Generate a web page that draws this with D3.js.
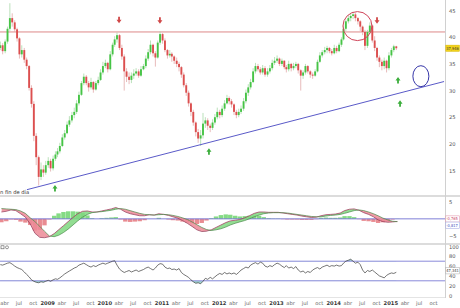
<!DOCTYPE html>
<html>
<head>
<meta charset="utf-8">
<script src="https://cdn.jsdelivr.net/npm/d3@7"></script>
<style>
  body { margin: 0; background: #fff; }
  svg { display: block; font-family: "DejaVu Sans", sans-serif; }
</style>
</head>
<body>
<div id="chart"></div>
<script>
const width = 460;
const height = 308;
const plotRight = 445;

// half-month candles, first one is early March 2008
const firstOpen = 38.0;
const closes = [
  38.5, 37.4, 39.2, 41.6, 43.6, 42.8, 41.5, 39.8, 36.8, 37.6, 35.8, 34.6, 30.5, 27.5, 21.5, 17.5, 13.8, 15.2, 14.6, 16.0,
  16.8, 15.4, 17.2, 18.0, 18.6, 19.6, 21.2, 22.0, 23.6, 24.4, 25.4, 26.0, 27.6, 29.2, 31.4, 32.6, 31.4, 30.6, 31.6, 30.2, 31.4, 32.0, 33.4, 34.6,
  35.2, 34.0, 36.8, 38.6, 39.6, 40.4, 38.0, 36.4, 33.6, 32.6, 32.0, 32.8, 33.2, 33.6, 32.8, 34.0, 34.6, 36.0, 37.2, 38.6, 37.0, 36.2, 39.0, 40.6,
  39.4, 37.6, 36.6, 36.9, 36.4, 35.6, 35.0, 34.4, 33.0, 31.0, 29.6, 27.6, 26.0, 24.0, 22.2, 21.0, 21.6, 23.8, 24.4, 23.4, 23.0, 24.0, 25.0, 26.0,
  25.4, 26.6, 27.6, 28.6, 28.0, 27.4, 26.0, 25.4, 26.0, 26.6, 28.0, 29.6, 30.6, 31.6, 33.6, 34.6, 34.0, 33.4, 34.2, 33.0, 33.6, 34.2, 35.2, 35.6,
  36.0, 35.0, 35.6, 34.4, 34.0, 35.0, 34.2, 34.6, 35.0, 33.8, 32.8, 33.4, 34.6, 33.6, 33.0, 32.8, 33.6, 35.4, 36.6, 37.2, 37.6, 38.0, 37.4, 37.0,
  38.0, 37.4, 38.6, 39.6, 41.6, 43.0, 43.6, 44.0, 44.3, 43.6, 43.0, 42.0, 41.0, 38.4, 41.0, 42.2, 39.4, 38.0, 36.2, 35.4, 34.6, 35.6, 34.2, 36.6,
  37.6, 38.3, 37.946
];
const highs = [
  39.2, 38.9, 39.6, 42.0, 46.4, 44.5, 43.2, 41.8, 40.0, 38.5, 38.0, 36.2, 34.8, 31.0, 28.0, 22.0, 17.8, 16.5, 16.0, 16.8,
  17.5, 17.2, 17.8, 18.6, 19.2, 20.2, 21.8, 22.6, 24.2, 25.2, 26.0, 26.8, 28.2, 29.8, 31.8, 33.2, 32.9, 31.8, 32.4, 31.8, 31.8, 32.6, 34.0, 35.4,
  35.8, 35.4, 37.4, 39.0, 40.2, 40.9, 40.6, 38.6, 36.8, 34.2, 33.4, 33.4, 34.0, 34.2, 34.0, 34.6, 35.0, 36.6, 37.8, 39.4, 38.8, 37.4, 39.4, 41.1,
  40.8, 39.8, 37.8, 37.6, 37.2, 36.6, 36.2, 35.4, 34.6, 33.4, 31.4, 30.0, 27.8, 26.4, 24.2, 22.8, 22.6, 25.8, 25.0, 24.8, 23.8, 24.6, 25.6, 26.8,
  26.4, 27.2, 28.2, 29.2, 28.9, 28.4, 27.6, 26.4, 26.6, 27.2, 28.6, 30.2, 31.2, 32.2, 34.2, 35.2, 35.0, 34.4, 34.8, 34.6, 34.2, 34.8, 35.8, 36.3,
  36.6, 36.2, 36.0, 35.7, 34.8, 35.6, 35.2, 35.2, 35.4, 35.2, 34.0, 33.8, 35.0, 34.8, 33.8, 33.4, 34.0, 35.8, 37.2, 37.6, 38.2, 38.4, 38.2, 37.8,
  38.6, 38.4, 39.0, 40.0, 42.2, 43.4, 44.2, 44.6, 44.8, 44.6, 43.8, 43.2, 42.2, 41.4, 41.4, 42.8, 42.4, 40.2, 38.2, 36.6, 35.8, 36.2, 35.8, 37.2,
  38.0, 38.6, 38.4
];
const lows = [
  37.6, 36.8, 37.0, 38.8, 41.2, 42.0, 41.0, 39.2, 36.0, 36.2, 35.2, 34.0, 30.0, 26.8, 20.5, 16.0, 12.2, 13.2, 13.8, 14.2,
  15.5, 14.8, 15.0, 16.8, 17.5, 18.2, 19.4, 20.8, 21.8, 23.2, 24.0, 24.8, 25.6, 27.2, 29.0, 31.0, 31.0, 29.8, 30.2, 29.6, 30.0, 31.0, 31.8, 33.0,
  34.2, 33.4, 33.8, 36.4, 38.2, 39.0, 37.6, 35.8, 30.0, 31.6, 31.2, 31.4, 32.2, 32.8, 32.4, 32.6, 33.8, 34.2, 35.6, 36.8, 36.4, 34.5, 36.0, 38.6,
  38.8, 37.2, 36.0, 36.2, 35.4, 35.0, 34.4, 33.6, 32.4, 30.6, 29.0, 27.0, 25.2, 23.4, 21.4, 20.2, 19.6, 21.0, 23.0, 22.6, 22.2, 22.6, 23.6, 24.6,
  24.8, 25.0, 26.2, 27.4, 27.4, 26.8, 25.4, 24.8, 25.0, 25.6, 26.2, 27.6, 29.0, 30.2, 31.4, 33.2, 33.6, 33.0, 33.0, 32.6, 32.6, 33.2, 33.8, 34.8,
  35.2, 34.6, 34.6, 34.0, 33.4, 33.6, 33.6, 33.8, 34.2, 33.2, 30.0, 32.2, 33.0, 33.2, 32.4, 32.2, 32.6, 33.4, 35.2, 36.2, 36.8, 37.0, 37.0, 36.6,
  36.8, 37.0, 37.2, 38.2, 39.4, 41.2, 42.6, 43.0, 43.4, 43.0, 42.4, 41.2, 40.4, 37.6, 38.0, 40.6, 39.0, 37.4, 35.6, 34.4, 33.8, 34.0, 33.4, 33.8,
  36.2, 37.2, 37.6
];

// RSI, same half-month dates
const rsiValues = [
  63, 62, 64, 66, 67, 64, 60, 57, 55, 53, 48, 43, 38, 32, 29, 27, 26, 28, 27, 29,
  31, 29, 32, 34, 33, 36, 40, 44, 47, 50, 53, 56, 58, 62, 64, 66, 63, 60, 58, 61, 59, 62, 64, 66,
  64, 66, 68, 70, 71, 62, 54, 50, 47, 49, 51, 48, 50, 52, 49, 51, 53, 56, 58, 55, 52, 56, 62, 65,
  64, 58, 55, 56, 53, 54, 52, 55, 47, 43, 40, 37, 32, 28, 25, 26, 24, 29, 35, 33, 37, 34, 38, 42,
  45, 43, 47, 44, 46, 44, 46, 43, 47, 52, 55, 58, 56, 62, 65, 67, 64, 68, 66, 60, 58, 61, 59, 63,
  66, 64, 60, 57, 61, 56, 58, 55, 59, 52, 48, 50, 46, 49, 47, 52, 55, 57, 54, 58, 60, 62, 59, 61,
  60, 62, 60, 61, 66, 70, 72, 74, 70, 66, 68, 63, 52, 46, 51, 49, 52, 48, 44, 40, 38, 36, 41, 44,
  46, 45, 47.341
];

// MACD lines, monthly from March 2008
const macdFast = [
  2.0, 2.2, 2.6, 2.4, 1.5, 0.5, -1.5, -4.2, -5.4, -5.5,
  -5.2, -4.3, -3.2, -2.0, -0.8, 0.4, 1.5, 2.2, 2.3, 2.0, 2.0, 2.3,
  2.6, 2.9, 3.3, 2.8, 2.0, 1.5, 1.2, 0.9, 0.9, 1.2, 1.1, 1.5,
  1.3, 1.0, 0.6, 0.2, -0.5, -1.3, -2.2, -3.2, -3.7, -3.6, -3.2, -2.5,
  -1.8, -1.1, -0.6, -0.4, -0.2, 0.3, 0.9, 1.6, 2.0, 2.0, 1.9, 1.9,
  1.9, 1.7, 1.5, 1.3, 1.1, 0.8, 0.6, 0.4, 0.5, 0.9, 1.2, 1.3,
  1.4, 1.7, 2.4, 2.8, 2.9, 2.5, 1.8, 1.3, 0.6, -0.3, -0.8, -1.0,
  -0.9, -0.765
];
const macdSignal = [
  3.0, 2.9, 2.8, 2.7, 2.3, 1.6, 0.3, -0.8, -2.2, -3.6,
  -5.0, -5.2, -4.8, -4.0, -3.0, -1.8, -0.6, 0.5, 1.3, 1.8, 2.0, 2.1,
  2.3, 2.5, 2.8, 3.0, 2.8, 2.4, 2.0, 1.6, 1.3, 1.2, 1.1, 1.2,
  1.3, 1.2, 1.0, 0.7, 0.3, -0.2, -0.9, -1.7, -2.5, -3.1, -3.4, -3.2,
  -2.9, -2.4, -1.8, -1.3, -0.9, -0.5, 0.0, 0.6, 1.1, 1.5, 1.7, 1.8,
  1.8, 1.8, 1.7, 1.5, 1.3, 1.1, 0.9, 0.7, 0.6, 0.6, 0.8, 1.0,
  1.1, 1.3, 1.6, 2.0, 2.4, 2.6, 2.4, 2.0, 1.5, 0.9, 0.2, -0.3,
  -0.7, -0.817
];

const priceTicks = [15, 20, 25, 30, 35, 40, 45];
const macdTicks = [5, -5];
const rsiTicks = [100, 80, 60, 40, 20, 0];
const rsiLevels = [70, 30];
const monthNames = ['ene', 'feb', 'mar', 'abr', 'may', 'jun', 'jul', 'ago', 'sep', 'oct', 'nov', 'dic'];

// drawings on the price panel
const resistance = 41.0;
const trendDates = [new Date(2008, 7, 25), new Date(2015, 11, 10)];
const trendPrices = [11.4, 31.7];
const downArrowDates = [new Date(2010, 3, 5), new Date(2010, 11, 22), new Date(2014, 9, 8)];
const downArrowPrices = [43.2, 43.1, 43.1];
const upArrowDates = [new Date(2009, 1, 20), new Date(2011, 9, 31), new Date(2015, 1, 19), new Date(2015, 2, 4)];
const upArrowPrices = [11.7, 18.6, 32.0, 27.6];
const redCircleDate = new Date(2014, 5, 5), redCirclePrice = 42.1;
const blueCircleDate = new Date(2015, 6, 15), blueCirclePrice = 32.7;

const halfDate = i => new Date(2008, 2 + Math.floor(i / 2), i % 2 ? 23 : 8);
const monthDate = i => new Date(2008, 2 + i, 15);
const comma = (v, n) => v.toFixed(n).replace('.', ',');

const candles = closes.map((c, i) => ({
  date: halfDate(i),
  open: i ? closes[i - 1] : firstOpen,
  close: c,
  high: highs[i],
  low: lows[i]
}));
const macd = macdFast.map((v, i) => ({date: monthDate(i), a: v, b: macdSignal[i]}));
const rsi = rsiValues.map((v, i) => ({date: halfDate(i), v: v}));

const svg = d3.select('#chart').append('svg')
  .attr('width', width)
  .attr('height', height);

const x = d3.scaleTime()
  .domain([new Date(2008, 2, 6), new Date(2015, 11, 16)])
  .range([0, plotRight]);
const yPrice = d3.scaleLinear().domain([10.4, 47]).range([195, 0]);
const yMacd = d3.scaleLinear().domain([-5, 5]).range([236, 201.7]);
const yRsi = d3.scaleLinear().domain([0, 100]).range([295.5, 246.5]);

const defs = svg.append('defs');
defs.append('clipPath').attr('id', 'clip-main')
  .append('rect').attr('x', 0).attr('y', 0).attr('width', plotRight).attr('height', 195);

// panel separators
[[195, 2], [243, 2]].forEach(function (s) {
  svg.append('rect').attr('x', 0).attr('y', s[0]).attr('width', width).attr('height', s[1])
    .attr('fill', '#dcdcdc');
});
svg.append('line').attr('x1', 0).attr('x2', plotRight).attr('y1', 297.5).attr('y2', 297.5)
  .attr('stroke', '#e4e4e4');
svg.append('line').attr('x1', plotRight + 0.5).attr('x2', plotRight + 0.5).attr('y1', 0).attr('y2', 298)
  .attr('stroke', '#d0d0d0');

// ---- price panel
const main = svg.append('g').attr('clip-path', 'url(#clip-main)');

main.append('line')
  .attr('x1', 0).attr('x2', plotRight)
  .attr('y1', yPrice(resistance)).attr('y2', yPrice(resistance))
  .attr('stroke', '#d97a7a').attr('stroke-width', 0.9);

main.selectAll('.wick').data(candles).enter().append('line')
  .attr('class', 'wick')
  .attr('x1', d => x(d.date)).attr('x2', d => x(d.date))
  .attr('y1', d => yPrice(Math.max(d.high, d.open, d.close)))
  .attr('y2', d => yPrice(Math.min(d.low, d.open, d.close)))
  .attr('stroke', d => d.close >= d.open ? '#a9d9a9' : '#e2aaaa')
  .attr('stroke-width', 0.8);

main.selectAll('.body').data(candles).enter().append('rect')
  .attr('class', 'body')
  .attr('x', d => x(d.date) - 0.95)
  .attr('width', 1.9)
  .attr('y', d => yPrice(Math.max(d.open, d.close)))
  .attr('height', d => Math.max(0.8, Math.abs(yPrice(d.open) - yPrice(d.close))))
  .attr('fill', d => d.close >= d.open ? '#46c446' : '#dc4f4f');

main.append('line')
  .attr('x1', x(trendDates[0])).attr('y1', yPrice(trendPrices[0]))
  .attr('x2', x(trendDates[1])).attr('y2', yPrice(trendPrices[1]))
  .attr('stroke', '#5a5ac8').attr('stroke-width', 1);

main.append('circle')
  .attr('cx', x(redCircleDate)).attr('cy', yPrice(redCirclePrice)).attr('r', 14.5)
  .attr('fill', 'none').attr('stroke', '#d0455a').attr('stroke-width', 1);

main.append('ellipse')
  .attr('cx', x(blueCircleDate)).attr('cy', yPrice(blueCirclePrice)).attr('rx', 8).attr('ry', 10.5)
  .attr('fill', 'none').attr('stroke', '#3535a8').attr('stroke-width', 1);

const arrowPath = 'M-0.9,-3.5h1.8v3h1.6l-2.5,3.5l-2.5,-3.5h1.6z';
main.selectAll('.down-arrow').data(downArrowDates).enter().append('path')
  .attr('class', 'down-arrow')
  .attr('d', arrowPath)
  .attr('transform', (d, i) => `translate(${x(d)},${yPrice(downArrowPrices[i])})`)
  .attr('fill', '#d04848');
main.selectAll('.up-arrow').data(upArrowDates).enter().append('path')
  .attr('class', 'up-arrow')
  .attr('d', arrowPath)
  .attr('transform', (d, i) => `translate(${x(d)},${yPrice(upArrowPrices[i])}) rotate(180)`)
  .attr('fill', '#3cae3c');

svg.append('text').attr('x', 0).attr('y', 193.5)
  .attr('font-size', 5.2).attr('fill', '#333').text('n fin de día');

// ---- MACD panel
const macdArea = d3.area().x(d => x(d.date)).y0(d => yMacd(d.a)).y1(d => yMacd(d.b));
defs.append('clipPath').attr('id', 'clip-a-below')
  .append('path').attr('d', d3.area().x(d => x(d.date)).y0(d => yMacd(d.a)).y1(243)(macd));
defs.append('clipPath').attr('id', 'clip-a-above')
  .append('path').attr('d', d3.area().x(d => x(d.date)).y0(d => yMacd(d.a)).y1(197)(macd));

const macdG = svg.append('g');
macdG.selectAll('.hist').data(macd).enter().append('rect')
  .attr('class', 'hist')
  .attr('x', d => x(d.date) - 2.2)
  .attr('width', 4.4)
  .attr('y', d => Math.min(yMacd(0), yMacd(d.a - d.b)))
  .attr('height', d => Math.abs(yMacd(0) - yMacd(d.a - d.b)))
  .attr('fill', d => d.a >= d.b ? '#5ccf5c' : '#e2666e')
  .attr('opacity', 0.75);

macdG.append('line')
  .attr('x1', 0).attr('x2', plotRight).attr('y1', yMacd(0)).attr('y2', yMacd(0))
  .attr('stroke', '#7272d2').attr('stroke-width', 0.9);

macdG.append('path').datum(macd)
  .attr('d', macdArea).attr('clip-path', 'url(#clip-a-below)')
  .attr('fill', '#7fd77f').attr('opacity', 0.85);
macdG.append('path').datum(macd)
  .attr('d', macdArea).attr('clip-path', 'url(#clip-a-above)')
  .attr('fill', '#ec8a96').attr('opacity', 0.85);

macdG.append('path').datum(macd)
  .attr('d', d3.line().x(d => x(d.date)).y(d => yMacd(d.a)))
  .attr('fill', 'none').attr('stroke', '#9a3058').attr('stroke-width', 0.7);
macdG.append('path').datum(macd)
  .attr('d', d3.line().x(d => x(d.date)).y(d => yMacd(d.b)))
  .attr('fill', 'none').attr('stroke', '#4a8a4a').attr('stroke-width', 0.7);

// ---- RSI panel
const rsiG = svg.append('g');
defs.append('clipPath').attr('id', 'clip-oversold')
  .append('rect').attr('x', 0).attr('y', yRsi(30)).attr('width', plotRight).attr('height', 20);
defs.append('clipPath').attr('id', 'clip-overbought')
  .append('rect').attr('x', 0).attr('y', 240).attr('width', plotRight).attr('height', yRsi(70) - 240);

rsiG.append('path').datum(rsi)
  .attr('d', d3.area().x(d => x(d.date)).y0(yRsi(30)).y1(d => yRsi(d.v)))
  .attr('clip-path', 'url(#clip-oversold)')
  .attr('fill', '#8ccfc4').attr('opacity', 0.8);
rsiG.append('path').datum(rsi)
  .attr('d', d3.area().x(d => x(d.date)).y0(yRsi(70)).y1(d => yRsi(d.v)))
  .attr('clip-path', 'url(#clip-overbought)')
  .attr('fill', '#8ccfc4').attr('opacity', 0.8);

rsiG.selectAll('.level').data(rsiLevels).enter().append('line')
  .attr('class', 'level')
  .attr('x1', 0).attr('x2', plotRight)
  .attr('y1', d => yRsi(d)).attr('y2', d => yRsi(d))
  .attr('stroke', '#7d7dd6').attr('stroke-width', 0.9);

rsiG.append('path').datum(rsi)
  .attr('d', d3.line().x(d => x(d.date)).y(d => yRsi(d.v)))
  .attr('fill', 'none').attr('stroke', '#3a3a3a').attr('stroke-width', 0.7);

rsiG.append('rect').attr('x', 1).attr('y', 245.8).attr('width', 3).attr('height', 3)
  .attr('fill', 'none').attr('stroke', '#555').attr('stroke-width', 0.6);
rsiG.append('circle').attr('cx', 7).attr('cy', 247.3).attr('r', 1.5)
  .attr('fill', 'none').attr('stroke', '#555').attr('stroke-width', 0.6);

// ---- axes
function styleAxis (g) {
  g.select('.domain').remove();
  g.selectAll('text').attr('font-size', 5.2).attr('fill', '#555')
    .attr('font-family', '"DejaVu Sans", sans-serif');
}

svg.append('g')
  .attr('transform', `translate(${plotRight}, 0)`)
  .call(d3.axisRight(yPrice).tickValues(priceTicks).tickSize(0).tickPadding(4))
  .call(styleAxis);
svg.append('g')
  .attr('transform', `translate(${plotRight}, 0)`)
  .call(d3.axisRight(yMacd).tickValues(macdTicks).tickSize(0).tickPadding(4))
  .call(styleAxis);
svg.append('g')
  .attr('transform', `translate(${plotRight}, 0)`)
  .call(d3.axisRight(yRsi).tickValues(rsiTicks).tickSize(0).tickPadding(4))
  .call(styleAxis);

const xTicks = d3.timeMonth.every(3).range(new Date(2008, 3, 1), new Date(2015, 10, 1));
svg.append('g')
  .attr('transform', 'translate(0, 298)')
  .call(d3.axisBottom(x).tickValues(xTicks).tickSize(0).tickPadding(3)
    .tickFormat(d => d.getMonth() === 0 ? String(d.getFullYear()) : monthNames[d.getMonth()]))
  .call(styleAxis)
  .selectAll('text')
    .attr('fill', d => d.getMonth() === 0 ? '#333' : '#666')
    .attr('font-weight', d => d.getMonth() === 0 ? 'bold' : 'normal');

// ---- last value tags
function tag (y, label, fill, stroke, color) {
  const g = svg.append('g').attr('transform', `translate(${plotRight + 0.8}, ${y})`);
  g.append('rect').attr('x', 0).attr('y', -3.1).attr('width', 13.6).attr('height', 6.2)
    .attr('fill', fill).attr('stroke', stroke).attr('stroke-width', 0.5);
  g.append('text').attr('x', 0.5).attr('y', 1.5).attr('font-size', 4)
    .attr('font-family', '"DejaVu Sans Condensed", "Liberation Sans Narrow", sans-serif')
    .attr('fill', color).text(label);
}
const last = candles[candles.length - 1];
tag(yPrice(last.close), comma(last.close, 3), '#f2d21b', '#d8b800', '#333');
const lastMacd = macd[macd.length - 1];
tag(yMacd(lastMacd.a) - 2.5, comma(lastMacd.a, 3), '#fff', '#e08aa0', '#c84060');
tag(yMacd(lastMacd.b) + 3.5, comma(lastMacd.b, 3), '#fff', '#9aa0e0', '#4050c0');
tag(yRsi(rsi[rsi.length - 1].v) - 1.5, comma(rsi[rsi.length - 1].v, 3), '#fff', '#aaa', '#333');
</script>
</body>
</html>
